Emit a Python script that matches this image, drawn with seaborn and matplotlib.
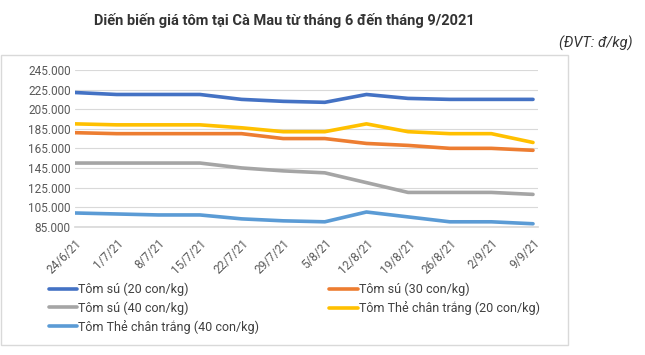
import matplotlib
matplotlib.use("Agg")
import matplotlib.pyplot as plt
import seaborn as sns
import pandas as pd
from matplotlib.patches import Rectangle

dates = ["24/6/21", "1/7/21", "8/7/21", "15/7/21", "22/7/21", "29/7/21",
         "5/8/21", "12/8/21", "19/8/21", "26/8/21", "2/9/21", "9/9/21"]
su20 = [222, 220, 220, 220, 215, 213, 212, 220, 216, 215, 215, 215]
su30 = [181, 180, 180, 180, 180, 175, 175, 170, 168, 165, 165, 163]
su40 = [150, 150, 150, 150, 145, 142, 140, 130, 120, 120, 120, 118]
the20 = [190, 189, 189, 189, 186, 182, 182, 190, 182, 180, 180, 171]
the40 = [99, 98, 97, 97, 93, 91, 90, 100, 95, 90, 90, 88]
series_names = ["Tôm sú (20 con/kg)", "Tôm sú (30 con/kg)", "Tôm sú (40 con/kg)",
                "Tôm Thẻ chân trắng (20 con/kg)", "Tôm Thẻ chân trắng (40 con/kg)"]
series_vals = [su20, su30, su40, the20, the40]
colors = ["#4472C4", "#ED7D31", "#A5A5A5", "#FFC000", "#5B9BD5"]
yticks = [85, 105, 125, 145, 165, 185, 205, 225, 245]

rows = []
for name, vals in zip(series_names, series_vals):
    for i, v in enumerate(vals):
        rows.append({"idx": i, "price": v * 1000, "series": name})
df = pd.DataFrame(rows)

sns.set_theme(style="white")
plt.rcParams['font.family'] = ['Roboto', 'DejaVu Sans']

fig = plt.figure(figsize=(6.45, 3.55), dpi=100)
fig.patch.set_facecolor("white")
# chart border
fig.patches.append(Rectangle((1 / 645, 1 - 345 / 355), 567 / 645, 290 / 355,
                             transform=fig.transFigure, fill=False,
                             edgecolor="#D9D9D9", linewidth=1.0))

ax = fig.add_axes([75 / 645, (355 - 226.7) / 355, (538 - 75) / 645, (226.7 - 70) / 355])
sns.lineplot(data=df, x="idx", y="price", hue="series", hue_order=series_names,
             palette=colors, linewidth=2.6, ax=ax, legend=False)

ax.set_ylim(85000, 245000)
ax.set_xlim(0, 11.12)
ax.set_yticks([v * 1000 for v in yticks])
ax.set_yticklabels([f"{v}.000" for v in yticks], fontsize=8.5, color="#595959")
ax.set_xticks(range(len(dates)))
ax.set_xticklabels(dates, rotation=45, ha="right", rotation_mode="anchor",
                   fontsize=8.5, color="#595959")
ax.tick_params(axis="x", length=4, color="#D9D9D9", pad=3)
ax.tick_params(axis="y", length=0, pad=3)
ax.grid(axis="y", color="#D9D9D9", linewidth=0.8)
ax.set_axisbelow(True)
for s in ["top", "right", "left"]:
    ax.spines[s].set_visible(False)
ax.spines["bottom"].set_color("#D9D9D9")
ax.set_xlabel("")
ax.set_ylabel("")

handles = [plt.Line2D([], [], color=c, linewidth=2.6) for c in colors]
order = [0, 2, 4, 1, 3]
fig.legend([handles[i] for i in order], [series_names[i] for i in order],
           ncol=2, loc="upper left", bbox_to_anchor=(49 / 645, 1 - 283 / 355),
           frameon=False, fontsize=9, labelcolor="#404040",
           handlelength=2.25, handletextpad=0.1, columnspacing=5.6,
           labelspacing=0.4, borderaxespad=0, borderpad=0)

fig.text(284 / 645, 1 - 20 / 355, "Diến biến giá tôm tại Cà Mau từ tháng 6 đến tháng 9/2021",
         ha="center", va="center", fontsize=10.5, fontweight="bold", color="#333333")
fig.text(633 / 645, 1 - 43 / 355, "(ĐVT: đ/kg)", ha="right", va="center",
         fontsize=10.5, style="italic", color="#333333")

fig.savefig("out.png", dpi=100)
